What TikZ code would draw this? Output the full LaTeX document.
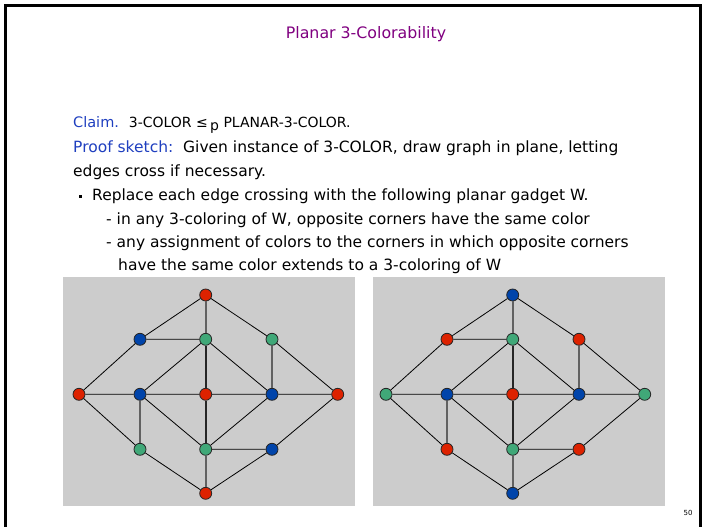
\documentclass[tikz,border=0pt]{standalone}
\usepackage{fontspec}
\setmainfont{DejaVu Sans}
\usetikzlibrary{backgrounds}
\definecolor{nred}{HTML}{DD2200}
\definecolor{nblue}{HTML}{0044AA}
\definecolor{ngreen}{HTML}{40A878}
\definecolor{panelgray}{HTML}{CCCCCC}
\definecolor{titlepurple}{HTML}{800080}
\definecolor{kwblue}{HTML}{1F3FBF}
\tikzset{
  vtx/.style={circle, minimum size=12pt, inner sep=0pt, draw=black!85, line width=0.8pt},
  thinedge/.style={draw=black, line width=0.8pt},
  grayedge/.style={draw=black!62, line width=1.7pt},
  darkedge/.style={draw=black!85, line width=1.8pt},
  txt/.style={anchor=base west, inner sep=0pt, font=\fontsize{15.5}{18}\selectfont},
}
% #1 prefix, #2 center x, #3 T/B colour, #4 L/R colour, #5 UL, #6 UR, #7 LL, #8 LR
\newcommand\Wgadget[8]{%
  \begin{scope}[shift={(#2,0)}]
    \node[vtx, fill=#3] (#1T) at (0,295) {};
    \node[vtx, fill=#5] (#1UL) at (-65.7,339.3) {};
    \node[vtx, fill=ngreen] (#1UM) at (0,339.3) {};
    \node[vtx, fill=#6] (#1UR) at (66.3,339.3) {};
    \node[vtx, fill=#4] (#1L) at (-126.7,394.3) {};
    \node[vtx, fill=nblue] (#1ML) at (-65.7,394.3) {};
    \node[vtx, fill=nred] (#1C) at (0,394.3) {};
    \node[vtx, fill=nblue] (#1MR) at (66.3,394.3) {};
    \node[vtx, fill=#4] (#1R) at (132,394.3) {};
    \node[vtx, fill=#7] (#1LL) at (-65.7,449.3) {};
    \node[vtx, fill=ngreen] (#1LM) at (0,449.3) {};
    \node[vtx, fill=#8] (#1LR) at (66.3,449.3) {};
    \node[vtx, fill=#3] (#1B) at (0,493.3) {};
  \end{scope}
}
\newcommand\Wedges[1]{%
  \path[thinedge] (#1T) -- (#1UL) (#1T) -- (#1UR) (#1UL) -- (#1UM) (#1UL) -- (#1L)
    (#1UM) -- (#1ML) (#1UM) -- (#1MR) (#1UR) -- (#1R)
    (#1L) -- (#1ML) (#1ML) -- (#1C) (#1C) -- (#1MR) (#1MR) -- (#1R)
    (#1L) -- (#1LL) (#1ML) -- (#1LM) (#1MR) -- (#1LM) (#1R) -- (#1LR)
    (#1LM) -- (#1LR) (#1LL) -- (#1B) (#1LR) -- (#1B);
  \path[grayedge] (#1T) -- (#1UM) (#1UR) -- (#1MR) (#1ML) -- (#1LL) (#1LM) -- (#1B);
  \path[darkedge] (#1UM) -- (#1C) (#1C) -- (#1LM);
}
\begin{document}
\begin{tikzpicture}[x=1pt,y=-1pt]
\useasboundingbox (0,0) rectangle (705,527);
% frame
\draw[line width=3pt] (5.5,535) -- (5.5,5.5) -- (700,5.5) -- (700,535);
% title
\node[anchor=base, inner sep=0pt, text=titlepurple, font=\fontsize{15.8}{20}\selectfont] (title) at (366,39) {Planar 3-Colorability};
% text
\node[txt] (claim) at (73,128) {\textcolor{kwblue}{\fontsize{14.5}{18}\selectfont Claim.}\ \ {\fontsize{14}{16}\selectfont 3-COLOR ≤\,\raisebox{-3pt}{p} PLANAR-3-COLOR.}};
\node[txt] (proof) at (73,152) {\textcolor{kwblue}{Proof sketch:}\ \ Given instance of 3-COLOR, draw graph in plane, letting};
\node[txt] (edges) at (73,176) {edges cross if necessary.};
\node[anchor=center, fill=black, minimum size=3pt, inner sep=0pt] (bul) at (80.5,196.5) {};
\node[txt] (repl) at (92,200) {Replace each edge crossing with the following planar gadget W.};
\node[txt] (sub1) at (106,224) {- in any 3-coloring of W, opposite corners have the same color};
\node[txt] (sub2) at (106,247) {- any assignment of colors to the corners in which opposite corners};
\node[txt] (sub3) at (118,270) {have the same color extends to a 3-coloring of W};
% gadgets
\Wgadget{a}{205.7}{nred}{nred}{nblue}{ngreen}{ngreen}{nblue}
\Wgadget{b}{512.7}{nblue}{ngreen}{nred}{nred}{nred}{nred}
\Wedges{a}
\Wedges{b}
% panels
\begin{scope}[on background layer]
\fill[panelgray] (63,277) rectangle (355,506);
\fill[panelgray] (373,277) rectangle (665,506);
\end{scope}
% page number
\node[anchor=base, inner sep=0pt, font=\fontsize{7}{8}\selectfont] (pg) at (688,515) {50};
\end{tikzpicture}
\end{document}
